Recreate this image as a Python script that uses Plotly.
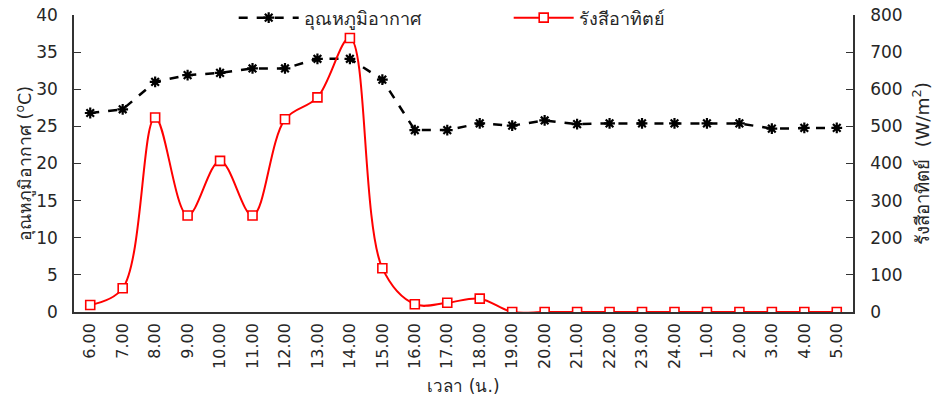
import plotly.graph_objects as go

hours = ["6.00", "7.00", "8.00", "9.00", "10.00", "11.00", "12.00", "13.00", "14.00", "15.00",
         "16.00", "17.00", "18.00", "19.00", "20.00", "21.00", "22.00", "23.00", "24.00",
         "1.00", "2.00", "3.00", "4.00", "5.00"]
air_temp = [26.8, 27.3, 31.0, 31.9, 32.2, 32.8, 32.8, 34.1, 34.1, 31.3,
            24.5, 24.5, 25.4, 25.1, 25.8, 25.3, 25.4, 25.4, 25.4,
            25.4, 25.4, 24.7, 24.8, 24.8]
solar_rad = [19, 64, 524, 260, 407, 260, 519, 578, 738, 118,
             21, 25, 36, 0, 0, 0, 0, 0, 0,
             0, 0, 0, 0, 0]

FONT = "Tahoma, DejaVu Sans, Noto Sans, sans-serif"
TXT = "#262626"

fig = go.Figure()
fig.add_trace(go.Scatter(
    x=hours, y=air_temp, name="อุณหภูมิอากาศ", mode="lines+markers",
    line=dict(color="black", width=2.5, dash="dash"),
    marker=dict(symbol="asterisk-open", size=9, color="black", line=dict(color="black", width=2.2)),
    yaxis="y"))
fig.add_trace(go.Scatter(
    x=hours, y=solar_rad, name="รังสีอาทิตย์", mode="lines+markers",
    line=dict(color="#FF0000", width=2, shape="spline", smoothing=1),
    marker=dict(symbol="square", size=9, color="white", line=dict(color="#FF0000", width=1.6)),
    yaxis="y2"))

fig.update_layout(
    width=939, height=403,
    margin=dict(l=74, r=86, t=15, b=91, autoexpand=False),
    plot_bgcolor="white", paper_bgcolor="white",
    font=dict(family=FONT, size=16, color=TXT),
    showlegend=True,
    legend=dict(orientation="h", x=0.205, y=0.99, xanchor="left", yanchor="middle",
                bgcolor="rgba(0,0,0,0)", font=dict(size=18, color=TXT),
                itemwidth=60, entrywidth=200, traceorder="normal"),
    xaxis=dict(type="category", range=[-0.5, 23.5], showline=True, linecolor="#333333", linewidth=1.5,
               ticks="", tickangle=-90, tickfont=dict(size=16), ticklabelstandoff=3,
               showgrid=False, zeroline=False, mirror=False, automargin=False,
               title=dict(text="เวลา (น.)", font=dict(size=17), standoff=12)),
    yaxis=dict(range=[0, 40], dtick=5, showline=True, linecolor="#333333", linewidth=1.5,
               ticks="inside", ticklen=7, tickcolor="#333333", showgrid=False, zeroline=False,
               tickfont=dict(size=17), ticklabelstandoff=11, automargin=False,
               ticklabeloverflow="allow",
               title=dict(text="อุณหภูมิอากาศ (<sup>o</sup>C)", font=dict(size=17.5), standoff=0)),
    yaxis2=dict(range=[0, 800], dtick=100, overlaying="y", side="right", showline=True,
                linecolor="#333333", linewidth=1.5, ticks="inside", ticklen=7, tickcolor="#333333",
                showgrid=False, zeroline=False, tickfont=dict(size=17), ticklabelstandoff=12,
                automargin=False, ticklabeloverflow="allow",
                title=dict(text="รังสีอาทิตย์  (W/m<sup>2</sup>)", font=dict(size=18.5), standoff=14)),
)

fig.write_html("out.html", config={"displayModeBar": False},
               post_script="document.body.style.margin='0';document.body.style.overflow='hidden';")
